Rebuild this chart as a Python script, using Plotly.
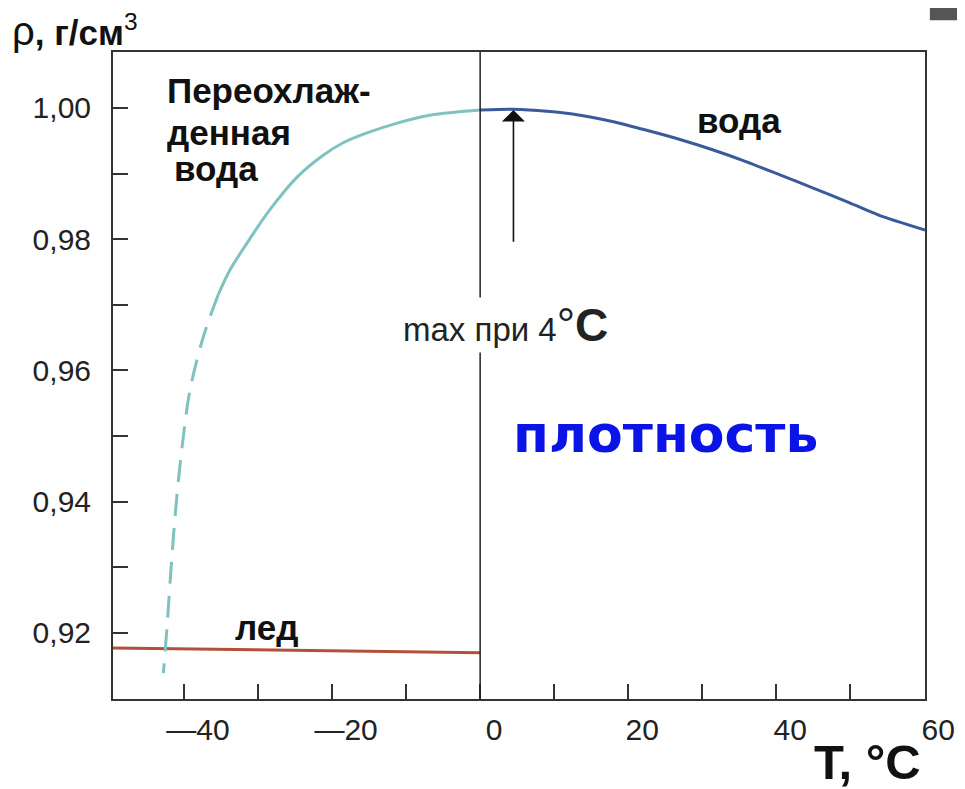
import plotly.graph_objects as go

# ---- data ----
water_T = [0, 4.5, 9, 13.5, 18, 22.5, 27, 31.5, 36, 40.5, 45, 49.6, 54, 60.1]
water_rho = [0.9997, 0.9998, 0.9995, 0.9989, 0.9979, 0.9966, 0.9952, 0.9936,
             0.9918, 0.9898, 0.9878, 0.9857, 0.9836, 0.9814]

supercooled_T = [-35.4, -33.8, -31.5, -28.4, -24.7, -21.2, -18.5, -15.3, -11.2, -6.8, 0]
supercooled_rho = [0.9715, 0.9753, 0.9794, 0.9845, 0.9895, 0.9928, 0.9947, 0.9962,
                   0.9977, 0.9989, 0.9997]

extrap_T = [-35.4, -37.4, -39.2, -40.1, -40.8, -41.4, -41.9, -42.3, -42.8]
extrap_rho = [0.9715, 0.9651, 0.9570, 0.9499, 0.9429, 0.9352, 0.9276, 0.9209, 0.9139]

ice_T = [-49.6, 0]
ice_rho = [0.9177, 0.9170]

x_tick_vals = [-40, -30, -20, -10, 0, 10, 20, 30, 40, 50, 60]
x_tick_text = ["—40", "", "—20", "", "0", "", "20", "", "40", "", "60"]
y_tick_vals = [0.92, 0.93, 0.94, 0.95, 0.96, 0.97, 0.98, 0.99, 1.00]
y_tick_text = ["0,92", "", "0,94", "", "0,96", "", "0,98", "", "1,00"]

TEAL = "#7fc2c0"
BLUE = "#3a5a9c"
ICE = "#b4503a"
AX = "#333333"
FONT = "Liberation Sans, Arial, sans-serif"

fig = go.Figure()
fig.add_trace(go.Scatter(x=ice_T, y=ice_rho, mode="lines",
                         line=dict(color=ICE, width=3), showlegend=False))
fig.add_trace(go.Scatter(x=extrap_T, y=extrap_rho, mode="lines",
                         line=dict(color=TEAL, width=3, dash="22px,12px", shape="spline"),
                         showlegend=False))
fig.add_trace(go.Scatter(x=supercooled_T, y=supercooled_rho, mode="lines",
                         line=dict(color=TEAL, width=3, shape="spline", smoothing=1.0),
                         showlegend=False))
fig.add_trace(go.Scatter(x=water_T, y=water_rho, mode="lines",
                         line=dict(color=BLUE, width=3, shape="spline", smoothing=0.5),
                         showlegend=False))

# vertical line at 0 °C
fig.add_shape(type="line", xref="x", yref="paper", x0=0, x1=0, y0=0, y1=1,
              line=dict(color="#222222", width=1.5))

# dark box at top right corner (fragment of the source)
fig.add_shape(type="rect", xref="paper", yref="paper", x0=1.006, x1=1.07, y0=1.049, y1=1.1,
              line=dict(width=0), fillcolor="#555555")

ann = []
bold = dict(family=FONT, size=35, color="#111111")
ann.append(dict(x=-42.6, y=1.0026, text="<b>Переохлаж-</b>", showarrow=False,
                xanchor="left", yanchor="middle", font=bold))
ann.append(dict(x=-42.6, y=0.9962, text="<b>денная</b>", showarrow=False,
                xanchor="left", yanchor="middle", font=bold))
ann.append(dict(x=-41.6, y=0.9908, text="<b>вода</b>", showarrow=False,
                xanchor="left", yanchor="middle", font=bold))
ann.append(dict(x=35, y=0.9981, text="<b>вода</b>", showarrow=False,
                xanchor="center", yanchor="middle", font=bold))
ann.append(dict(x=-28.8, y=0.9209, text="<b>лед</b>", showarrow=False,
                xanchor="center", yanchor="middle", font=bold))
ann.append(dict(x=4.5, y=0.9997, ax=4.5, ay=0.9794, axref="x", ayref="y",
                text="", showarrow=True, arrowhead=1, arrowsize=2.4,
                arrowwidth=1.6, arrowcolor="#111111"))
ann.append(dict(x=3.4, y=0.9669,
                text="max при 4<span style='font-size:46px'>°<b>C</b></span>",
                showarrow=False, xanchor="center", yanchor="middle",
                bgcolor="white", font=dict(family=FONT, size=33, color="#222222")))
ann.append(dict(x=25.0, y=0.9503, text="<b>плотность</b>", showarrow=False,
                xanchor="center", yanchor="middle",
                font=dict(family="DejaVu Sans, Verdana, sans-serif", size=52, color="#0a14e6")))
ann.append(dict(x=-0.127, y=1.034, xref="paper", yref="paper",
                text="<span style='font-size:40px'>ρ</span><b>, г/см</b><sup>3</sup>",
                showarrow=False, xanchor="left", yanchor="middle",
                font=dict(family=FONT, size=35, color="#111111")))
ann.append(dict(x=0.9975, y=-0.098, xref="paper", yref="paper",
                text="<b>T, °C</b>", showarrow=False, xanchor="right", yanchor="middle",
                font=dict(family=FONT, size=49, color="#111111")))

fig.update_layout(
    width=957, height=781,
    margin=dict(l=105, r=40, t=44, b=90),
    paper_bgcolor="white", plot_bgcolor="white",
    font=dict(family=FONT, size=30, color=AX),
    annotations=ann,
    showlegend=False,
)
fig.update_xaxes(range=[-49.6, 60.1], tickvals=x_tick_vals, ticktext=x_tick_text,
                 ticks="inside", ticklen=15, tickwidth=2, tickcolor=AX,
                 showline=True, linewidth=2, linecolor=AX, mirror=True,
                 showgrid=False, zeroline=False, ticklabelshift=14, ticklabelstandoff=3,
                 automargin=False,
                 tickfont=dict(family=FONT, size=30, color="#222222"))
fig.update_yaxes(range=[0.90994, 1.00853], tickvals=y_tick_vals, ticktext=y_tick_text,
                 ticks="inside", ticklen=15, tickwidth=2, tickcolor=AX,
                 showline=True, linewidth=2, linecolor=AX, mirror=True,
                 showgrid=False, zeroline=False, ticklabelstandoff=14,
                 automargin=False,
                 tickfont=dict(family=FONT, size=30, color="#222222"))

fig.write_html("out.html")
